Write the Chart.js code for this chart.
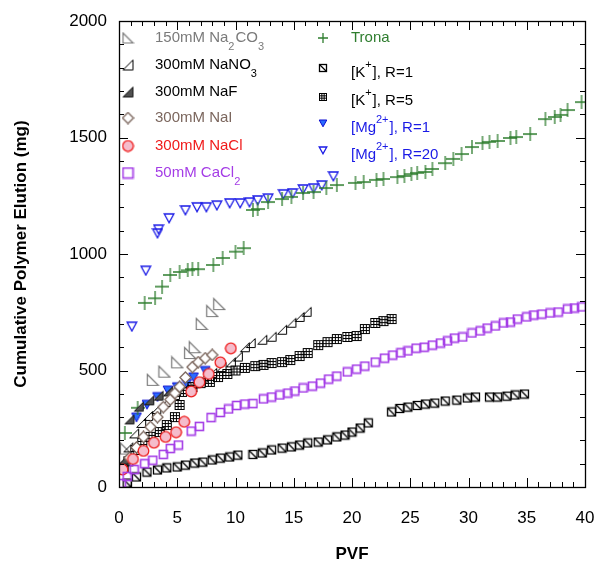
<!DOCTYPE html>
<html>
<head>
<meta charset="utf-8">
<script src="https://cdn.jsdelivr.net/npm/chart.js@4.4.1/dist/chart.umd.min.js"></script>
<style>
  html, body { margin: 0; padding: 0; background: #fff; }
  #wrap { width: 597px; height: 565px; }
</style>
</head>
<body>
<div id="wrap"><canvas id="elution"></canvas></div>
<script>
// cumulative polymer elution (mg) against pore volumes flushed, [PVF, mg]
const na2co3 = [[0.6,165],[2.9,460],[3.9,495],[5.0,535],[6.1,575],[6.5,600],[7.1,700],[8.0,755],[8.6,785]];
const nano3 = [[0.3,110],[0.8,170],[1.3,230],[1.9,275],[2.5,305],[3.2,335],[4.0,365],[4.8,395],[5.6,420],
  [6.4,445],[7.2,470],[8.0,490],[8.8,515],[9.6,535],[10.2,560],[10.8,600],[11.3,618],[12.3,632],
  [13.1,645],[14.0,675],[14.8,705],[15.5,730],[16.1,752]];
const naf = [[0.4,118],[0.9,290],[1.7,345],[2.6,372],[3.4,392],[4.2,410]];
const nai = [[0.9,125],[1.5,170],[2.1,215],[2.7,258],[3.3,300],[3.8,343],[4.4,375],[4.8,403],[5.2,430],
  [5.7,470],[6.3,515],[6.8,536],[7.4,553],[8.0,567]];
const nacl = [[0.3,75],[1.2,120],[2.1,155],[3.0,190],[4.0,215],[4.9,235],[5.6,280],[6.2,410],[6.9,450],
  [7.7,485],[8.7,535],[9.6,595]];
const cacl2 = [[0.2,15],[0.7,45],[1.3,75],[2.2,100],[2.9,115],[3.8,140],[4.4,165],[5.1,180],[6.2,240],
  [6.9,260],[7.9,298],[8.7,320],[9.4,335],[10.1,350],[10.8,356],[11.5,358],[12.4,378],[13.1,386],
  [13.8,395],[14.5,403],[15.1,412],[15.8,425],[16.6,433],[17.3,446],[18.0,463],[18.7,476],[19.6,494],
  [20.4,506],[21.1,519],[22.0,536],[22.8,553],[23.5,566],[24.2,576],[24.8,584],[25.5,596],[26.2,600],
  [26.9,609],[27.6,618],[28.2,627],[28.8,639],[29.5,644],[30.3,661],[31.0,670],[31.6,682],[32.3,691],
  [33.0,704],[33.6,708],[34.2,721],[35.0,730],[35.6,738],[36.3,742],[37.0,747],[37.7,751],[38.5,764],
  [39.1,768],[39.7,773]];
const trona = [[0.5,232],[1.6,340],[2.2,790],[3.1,810],[3.7,860],[4.4,910],[5.2,923],[5.9,930],[6.3,935],
  [6.8,935],[8.1,953],[8.9,983],[10.0,1010],[10.7,1025],[11.5,1189],[11.9,1193],[12.8,1223],[14.0,1236],
  [14.8,1245],[15.8,1262],[16.7,1266],[17.8,1283],[18.7,1296],[20.3,1305],[21.0,1309],[22.1,1318],
  [22.7,1322],[23.9,1330],[24.5,1335],[25.1,1343],[25.6,1348],[26.3,1352],[26.9,1365],[28.0,1390],
  [28.7,1408],[29.4,1429],[30.3,1459],[31.2,1476],[31.8,1481],[32.5,1485],[33.6,1498],[34.1,1502],
  [35.3,1515],[36.6,1579],[37.4,1588],[37.9,1597],[38.5,1618],[39.7,1652]];
const k1 = [[0.7,17],[1.5,43],[2.4,64],[3.3,73],[4.1,82],[5.0,86],[5.7,94],[6.5,103],[7.2,107],[8.0,116],
  [8.7,124],[9.5,129],[10.2,137],[11.5,140],[12.3,146],[13.1,159],[14.0,167],[14.8,172],[15.5,180],
  [16.2,189],[17.1,193],[17.9,202],[18.7,215],[19.4,223],[20.0,236],[20.7,253],[21.4,275],[23.4,322],
  [24.1,337],[24.8,343],[25.6,350],[26.3,356],[27.1,360],[28.0,369],[29.0,373],[29.9,382],[30.6,386],
  [31.8,386],[32.5,386],[33.3,390],[34.0,395],[34.8,399]];
const k5 = [[0.4,82],[0.8,110],[1.4,159],[2.0,189],[2.7,215],[3.5,236],[4.1,266],[4.8,300],[5.2,352],
  [5.4,408],[6.3,429],[7.0,446],[7.8,451],[8.5,472],[9.3,485],[10.0,500],[10.8,511],[11.7,519],
  [12.4,524],[13.1,532],[14.0,536],[14.7,545],[15.5,562],[16.2,575],[17.1,609],[17.9,622],[18.7,635],
  [19.6,644],[20.4,648],[21.1,678],[22.0,704],[22.7,712],[23.4,721]];
const mg1 = [[1.5,300],[2.4,355],[3.3,388],[4.2,416],[5.0,430],[5.8,445],[6.4,472],[7.4,500]];
const mg20 = [[1.1,690],[2.3,930],[3.3,1090],[3.4,1107],[4.3,1155],[5.7,1189],[6.7,1202],[7.5,1202],
  [8.4,1210],[9.5,1219],[10.4,1219],[11.2,1223],[11.9,1232],[12.8,1240],[14.1,1258],[14.9,1262],
  [15.8,1279],[16.7,1283],[17.4,1296],[18.4,1335]];

const xMax = 40;
const yMax = 2000;

// small offscreen canvases used as point styles
function marker(size, draw) {
  const c = document.createElement('canvas');
  c.width = size;
  c.height = size;
  const g = c.getContext('2d');
  g.lineJoin = 'miter';
  draw(g, size);
  return c;
}

function triLeft(stroke, fill, lw) {
  return (g, s) => {
    g.beginPath();
    g.moveTo(1.5, 1.5); g.lineTo(1.5, s - 1.5); g.lineTo(s - 1.5, s - 1.5); g.closePath();
    if (fill) { g.fillStyle = fill; g.fill(); }
    g.strokeStyle = stroke; g.lineWidth = lw; g.stroke();
  };
}
function triRight(stroke, fill, lw) {
  return (g, s) => {
    g.beginPath();
    g.moveTo(s - 1.5, 1.5); g.lineTo(s - 1.5, s - 1.5); g.lineTo(1.5, s - 1.5); g.closePath();
    if (fill) { g.fillStyle = fill; g.fill(); }
    g.strokeStyle = stroke; g.lineWidth = lw; g.stroke();
  };
}
function diamond(stroke, lw) {
  return (g, s) => {
    g.beginPath();
    g.moveTo(s / 2, 1); g.lineTo(s - 1, s / 2); g.lineTo(s / 2, s - 1); g.lineTo(1, s / 2); g.closePath();
    g.fillStyle = '#fff'; g.fill();
    g.strokeStyle = stroke; g.lineWidth = lw; g.stroke();
  };
}
function circle(stroke, fill, lw) {
  return (g, s) => {
    g.beginPath();
    g.arc(s / 2, s / 2, s / 2 - 1.2, 0, Math.PI * 2);
    g.fillStyle = fill; g.fill();
    g.strokeStyle = stroke; g.lineWidth = lw; g.stroke();
  };
}
function square(stroke, lw, inner) {
  return (g, s) => {
    g.strokeStyle = stroke; g.lineWidth = lw;
    g.strokeRect(1.5, 1.5, s - 3, s - 3);
    g.beginPath();
    if (inner === 'diag') {
      g.moveTo(1.5, 1.5); g.lineTo(s - 1.5, s - 1.5);
    } else if (inner === 'grid') {
      const a = 1.5 + (s - 3) / 3, b = 1.5 + 2 * (s - 3) / 3;
      g.moveTo(a, 1.5); g.lineTo(a, s - 1.5);
      g.moveTo(b, 1.5); g.lineTo(b, s - 1.5);
      g.moveTo(1.5, a); g.lineTo(s - 1.5, a);
      g.moveTo(1.5, b); g.lineTo(s - 1.5, b);
    }
    g.stroke();
  };
}
function plus(stroke, lw) {
  return (g, s) => {
    g.strokeStyle = stroke; g.lineWidth = lw;
    g.beginPath();
    g.moveTo(s / 2, 0); g.lineTo(s / 2, s);
    g.moveTo(0, s / 2); g.lineTo(s, s / 2);
    g.stroke();
  };
}
function triDown(stroke, fill, lw) {
  return (g, s) => {
    g.beginPath();
    g.moveTo(1.2, 2); g.lineTo(s - 1.2, 2); g.lineTo(s / 2, s - 1.2); g.closePath();
    if (fill) { g.fillStyle = fill; g.fill(); }
    g.strokeStyle = stroke; g.lineWidth = lw; g.stroke();
  };
}

const C = {
  na2co3: '#7a7a7a', nano3: '#000', naf: '#000', nai: '#7b665d', nacl: '#f01a1a',
  cacl2: '#a43ce6', trona: '#2e7d2e', k: '#000', mg: '#1a1ae6'
};

const styles = {
  na2co3: triLeft(C.na2co3, null, 1.2),
  nano3: triRight('#000', null, 1),
  naf: triRight('#1a1a1a', '#505050', 1),
  nai: diamond(C.nai, 1.3),
  nacl: circle('#ee1c1c', '#f5bccb', 1.3),
  cacl2: square(C.cacl2, 1.6),
  trona: plus(C.trona, 1.3),
  k1: square('#000', 1.3, 'diag'),
  k5: square('#000', 1, 'grid'),
  mg1: triDown('#0a0ad0', '#2a6cff', 1),
  mg20: triDown(C.mg, null, 1.3)
};
const sizes = {
  na2co3: 14, nano3: 12, naf: 12, nai: 13, nacl: 13, cacl2: 11,
  trona: 14, k1: 11, k5: 12, mg1: 12, mg20: 12
};
const pts = {}, legendPts = {};
for (const k in styles) {
  pts[k] = marker(sizes[k], styles[k]);
  legendPts[k] = marker(k === 'k1' || k === 'k5' || k === 'mg1' || k === 'mg20' || k === 'trona' ? 10 : 13, styles[k]);
}

const toXY = arr => arr.map(p => ({ x: p[0], y: p[1] }));
function series(label, arr, key) {
  return {
    label: label,
    data: toXY(arr),
    pointStyle: pts[key],
    pointRadius: 6,
    showLine: false
  };
}

const datasets = [
  series('50mM CaCl2', cacl2, 'cacl2'),
  series('300mM NaCl', nacl, 'nacl'),
  series('300mM NaI', nai, 'nai'),
  series('300mM NaF', naf, 'naf'),
  series('300mM NaNO3', nano3, 'nano3'),
  series('150mM Na2CO3', na2co3, 'na2co3'),
  series('Trona', trona, 'trona'),
  series('[K+], R=1', k1, 'k1'),
  series('[K+], R=5', k5, 'k5'),
  series('[Mg2+], R=1', mg1, 'mg1'),
  series('[Mg2+], R=20', mg20, 'mg20')
];

// legend rows with sub/superscripts: [text, 'sub' | 'sup' | undefined]
const legendLeft = [
  ['na2co3', C.na2co3, [['150mM Na'], ['2', 'sub'], ['CO'], ['3', 'sub']]],
  ['nano3', '#000', [['300mM NaNO'], ['3', 'sub']]],
  ['naf', '#000', [['300mM NaF']]],
  ['nai', C.nai, [['300mM NaI']]],
  ['nacl', C.nacl, [['300mM NaCl']]],
  ['cacl2', C.cacl2, [['50mM CaCl'], ['2', 'sub']]]
];
const legendLeftY = [38, 65, 92, 118, 146, 173];
const legendRight = [
  ['trona', C.trona, [['Trona']]],
  ['k1', '#000', [['[K'], ['+', 'sup'], ['], R=1']]],
  ['k5', '#000', [['[K'], ['+', 'sup'], ['], R=5']]],
  ['mg1', C.mg, [['[Mg'], ['2+', 'sup'], ['], R=1']]],
  ['mg20', C.mg, [['[Mg'], ['2+', 'sup'], ['], R=20']]]
];
const legendRightY = [38, 73, 101, 128, 155];
const markerRightY = [38, 68, 97, 123, 150];

const FONT = '"Liberation Sans", Arial, sans-serif';

function richText(ctx, parts, x, y, color) {
  ctx.fillStyle = color;
  ctx.textBaseline = 'middle';
  ctx.textAlign = 'left';
  for (const [t, kind] of parts) {
    if (kind === 'sub') {
      ctx.font = '11px ' + FONT;
      ctx.fillText(t, x, y + 9);
    } else if (kind === 'sup') {
      ctx.font = '11px ' + FONT;
      ctx.fillText(t, x, y - 8);
    } else {
      ctx.font = '15px ' + FONT;
      ctx.fillText(t, x, y);
    }
    x += ctx.measureText(t).width + (kind ? 1 : 0);
  }
}

const frameAndLegend = {
  id: 'frameAndLegend',
  afterDatasetsDraw(chart) {
    const { ctx, chartArea: a, scales: { x, y } } = chart;
    ctx.save();
    ctx.strokeStyle = '#000';
    ctx.lineWidth = 1;
    ctx.beginPath();
    for (let v = 0; v <= xMax; v++) {
      const px = Math.round(x.getPixelForValue(v)) + 0.5;
      const len = v % 5 === 0 ? 9 : 5;
      ctx.moveTo(px, a.bottom); ctx.lineTo(px, a.bottom - len);
      ctx.moveTo(px, a.top); ctx.lineTo(px, a.top + len);
    }
    for (let v = 0; v <= yMax; v += 100) {
      const py = Math.round(y.getPixelForValue(v)) + 0.5;
      const len = v % 500 === 0 ? 9 : 5;
      ctx.moveTo(a.left, py); ctx.lineTo(a.left + len, py);
      ctx.moveTo(a.right, py); ctx.lineTo(a.right - len, py);
    }
    ctx.stroke();
    ctx.lineWidth = 1.3;
    ctx.strokeRect(Math.round(a.left) + 0.5, Math.round(a.top) + 0.5,
      Math.round(a.right - a.left), Math.round(a.bottom - a.top));

    legendLeft.forEach((row, i) => {
      const m = legendPts[row[0]];
      ctx.drawImage(m, 128 - m.width / 2, legendLeftY[i] - m.height / 2);
      richText(ctx, row[2], 155, legendLeftY[i], row[1]);
    });
    legendRight.forEach((row, i) => {
      const m = legendPts[row[0]];
      ctx.drawImage(m, 323 - m.width / 2, markerRightY[i] - m.height / 2);
      richText(ctx, row[2], 351, legendRightY[i], row[1]);
    });
    ctx.restore();
  }
};

// keep the plot box fixed regardless of tick label overflow
function noOverflow(scale) {
  scale.paddingLeft = 0;
  scale.paddingRight = 0;
  scale.paddingTop = 0;
  scale.paddingBottom = 0;
}

new Chart(document.getElementById('elution'), {
  type: 'scatter',
  data: { datasets: datasets },
  options: {
    responsive: true,
    maintainAspectRatio: false,
    animation: false,
    layout: { padding: { left: 0, right: 12, top: 21, bottom: 0 } },
    plugins: { legend: { display: false }, tooltip: { enabled: false } },
    scales: {
      x: {
        type: 'linear',
        min: 0,
        max: xMax,
        afterFit(scale) { scale.height = 78; noOverflow(scale); },
        grid: { display: false, drawTicks: false },
        border: { display: false },
        ticks: {
          stepSize: 5, padding: 21, color: '#000', font: { family: FONT, size: 17 },
          callback: v => String(v)
        },
        title: {
          display: true, text: 'PVF', color: '#000',
          padding: { top: 0, bottom: 0 },
          font: { family: FONT, size: 17, weight: 'bold' }
        }
      },
      y: {
        type: 'linear',
        min: 0,
        max: yMax,
        afterFit(scale) { scale.width = 119; noOverflow(scale); },
        grid: { display: false, drawTicks: false },
        border: { display: false },
        ticks: {
          stepSize: 500, padding: 12, color: '#000', font: { family: FONT, size: 17 },
          callback: v => String(v)
        },
        title: {
          display: true, text: 'Cumulative Polymer Elution (mg)', color: '#000',
          padding: { top: 11, bottom: 0 },
          font: { family: FONT, size: 17, weight: 'bold' }
        }
      }
    }
  },
  plugins: [frameAndLegend]
});
</script>
</body>
</html>
